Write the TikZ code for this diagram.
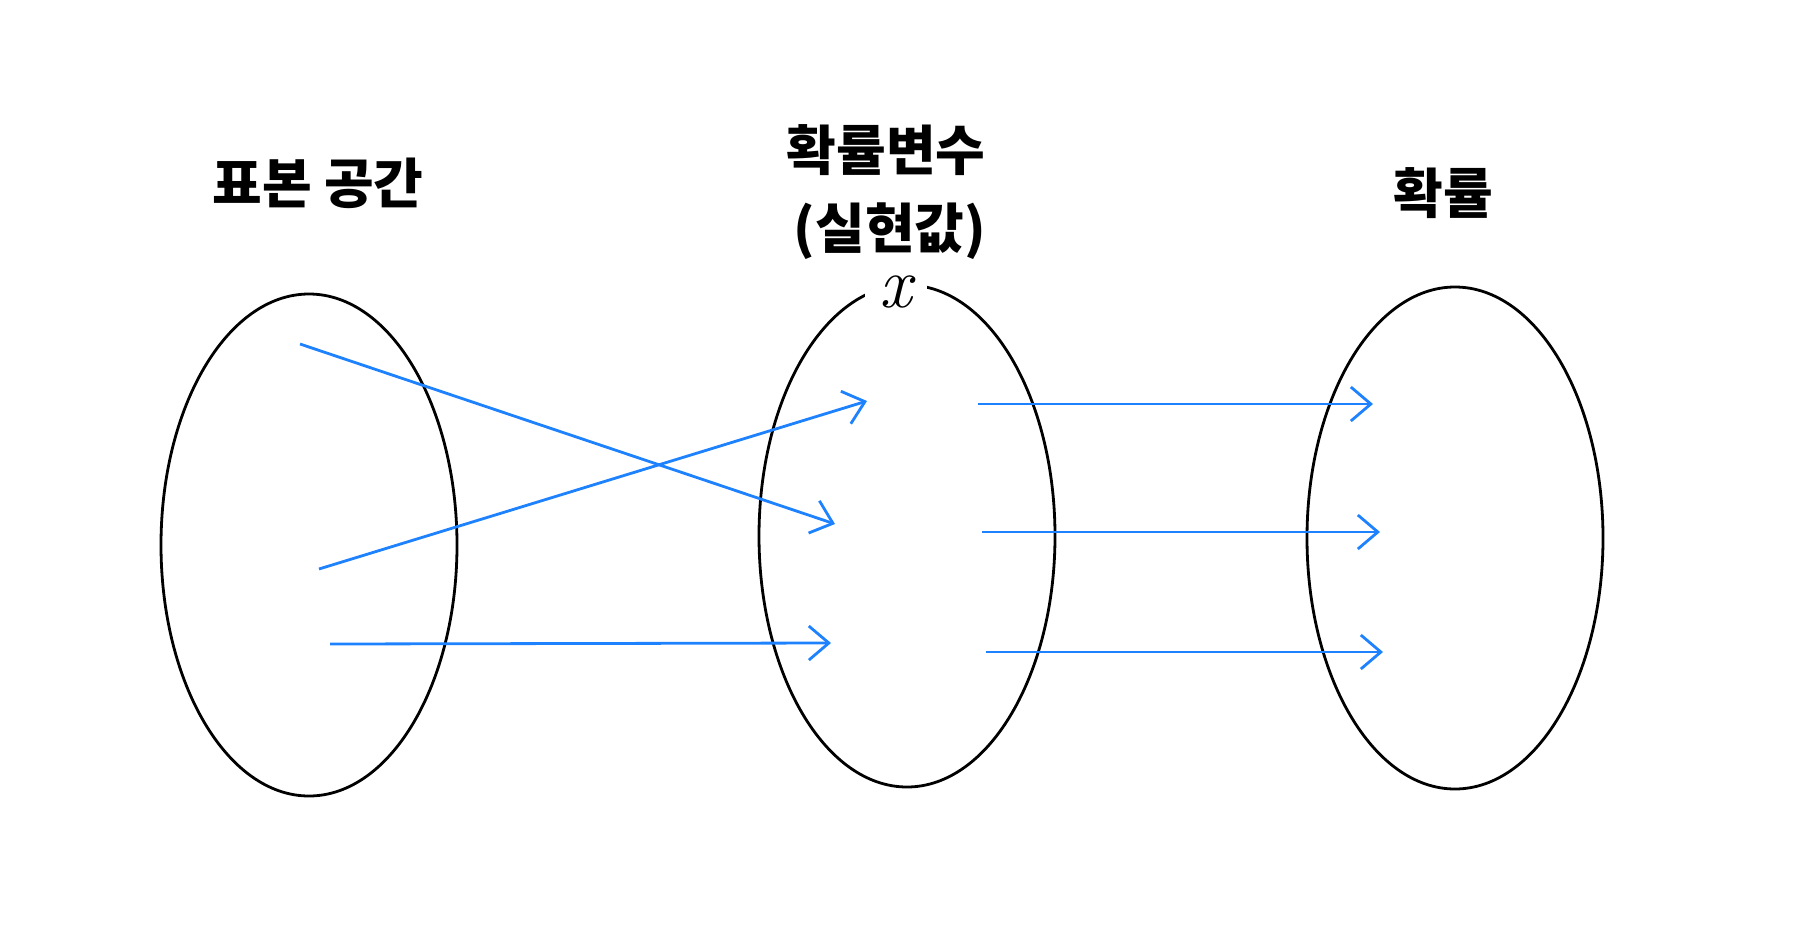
\documentclass[tikz,border=0pt]{standalone}
\usepackage{fontspec}
\newfontfamily\kr{Noto Sans CJK KR}[BoldFont={Noto Sans CJK KR Black}]
\usetikzlibrary{arrows.meta}
\definecolor{arrowblue}{RGB}{30,130,255}
\tikzset{
  maparrow/.style={draw=arrowblue, line width=2.8pt, -{Straight Barb[length=20pt,width=34pt,line width=2.8pt]}},
  title/.style={font=\kr\bfseries\fontsize{54}{60}\selectfont, align=center, inner sep=1pt},
}
\begin{document}
\begin{tikzpicture}[x=1pt,y=-1pt]
\useasboundingbox (0,0) rectangle (1814,929);
\draw[line width=2.8pt] (309,545) ellipse [x radius=148, y radius=251];
\draw[line width=2.8pt] (907,536) ellipse [x radius=148, y radius=251];
\draw[line width=2.8pt] (1455,538) ellipse [x radius=148, y radius=251];
\node[fill=white, minimum width=62pt, minimum height=22pt, inner sep=0pt] (xl) at (896,292) {\fontsize{72}{72}\selectfont\itshape x};
\node[title] (t1) at (318,183) {표본 공간};
\node[title] (t2) at (886,150) {확률변수};
\node[title] (t3) at (890,231) {(실현값)};
\node[title] (t4) at (1443,193) {확률};
\coordinate (a1s) at (300,344); \coordinate (a1e) at (835,524);
\coordinate (a2s) at (319,569); \coordinate (a2e) at (867,401);
\coordinate (a3s) at (330,644); \coordinate (a3e) at (831,643);
\coordinate (b1s) at (978,404); \coordinate (b1e) at (1373,404);
\coordinate (b2s) at (982,532); \coordinate (b2e) at (1380,532);
\coordinate (b3s) at (986,652); \coordinate (b3e) at (1383,652);
\draw[maparrow] (a1s) -- (a1e);
\draw[maparrow] (a2s) -- (a2e);
\draw[maparrow] (a3s) -- (a3e);
\draw[maparrow] (b1s) -- (b1e);
\draw[maparrow] (b2s) -- (b2e);
\draw[maparrow] (b3s) -- (b3e);
\end{tikzpicture}
\end{document}
